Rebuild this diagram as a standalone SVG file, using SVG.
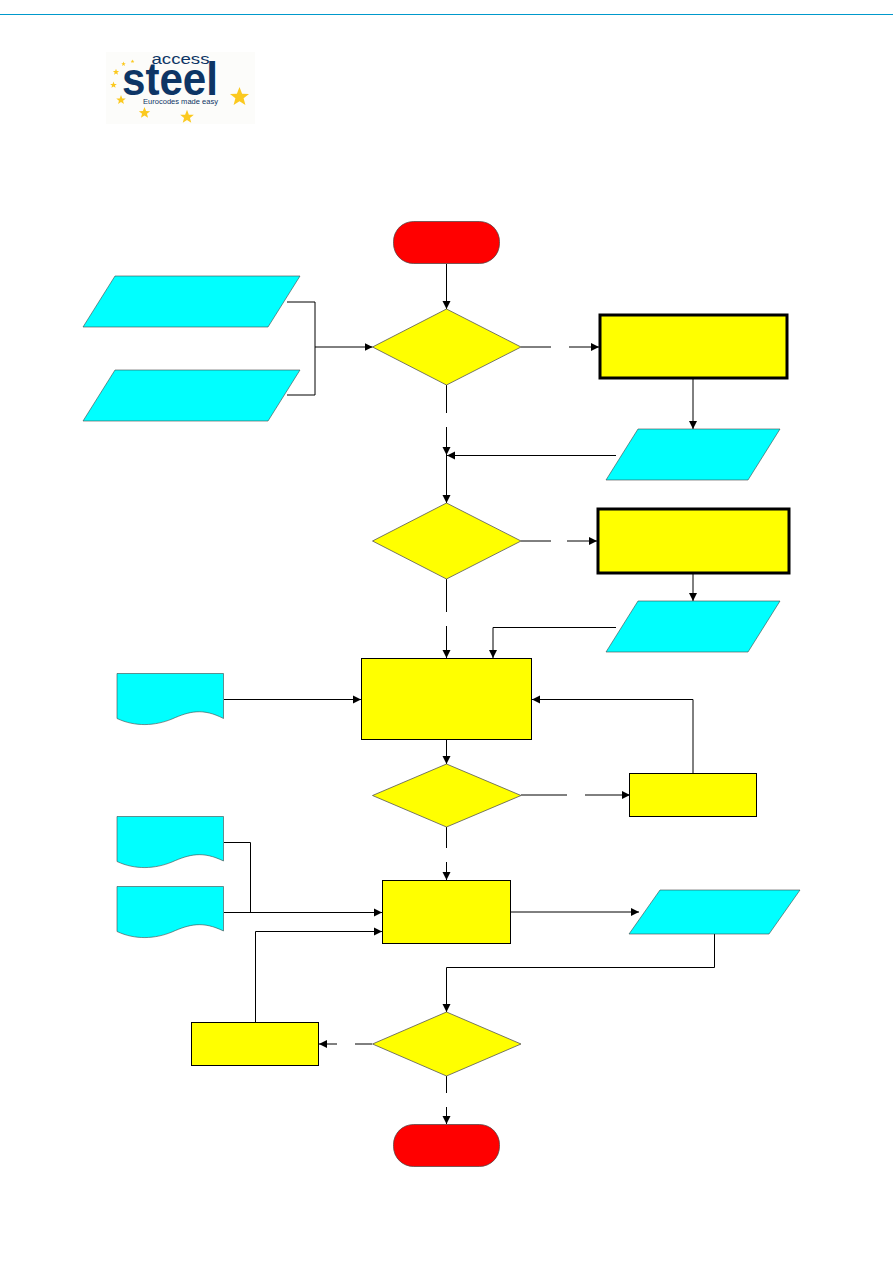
<svg xmlns="http://www.w3.org/2000/svg" width="893" height="1263" viewBox="0 0 893 1263">
<style>
.y{fill:#ff0;stroke:#000;stroke-width:1}
.yd{fill:#ff0;stroke:#555;stroke-width:.8}
.yt{fill:#ff0;stroke:#000;stroke-width:3}
.c{fill:#0ff;stroke:#444;stroke-width:.6}
.r{fill:#f00;stroke:#444;stroke-width:.7}
.l{fill:none;stroke:#000;stroke-width:1}
.s{fill:#fbc91f}
.logo{font-family:"Liberation Sans",Arial,sans-serif;fill:#0d3565}
</style>
<defs>
<marker id="a" markerUnits="userSpaceOnUse" markerWidth="9" markerHeight="9" refX="8" refY="4.5" orient="auto"><path d="M0 .5L8 4.5L0 8.5Z" fill="#000"/></marker>
<polygon id="star" points="0,-10 2.6,-3.2 9.5,-3.1 4.1,1.3 5.9,8.1 0,4.2 -5.900,8.100 -4.100,1.300 -9.500,-3.100 -2.600,-3.200" class="s"/>
</defs>
<rect x="0" y="14" width="893" height="1" fill="#09c"/>
<g id="logo">
<rect x="106" y="52" width="149" height="72" fill="#fcfcfa"/>
<text class="logo" x="151.500" y="63.500" font-size="15.500" textLength="58" lengthAdjust="spacingAndGlyphs">access</text>
<text class="logo" x="122" y="95" font-size="47" font-weight="700" textLength="96" lengthAdjust="spacingAndGlyphs">steel</text>
<text class="logo" x="143" y="103.500" font-size="7.500" textLength="75" lengthAdjust="spacingAndGlyphs">Eurocodes made easy</text>
<use href="#star" transform="translate(239.500 97) scale(1)"/>
<use href="#star" transform="translate(187 117) scale(.72)"/>
<use href="#star" transform="translate(144.500 113) scale(.6)"/>
<use href="#star" transform="translate(121 100) scale(.5)"/>
<use href="#star" transform="translate(113.500 85) scale(.35)"/>
<use href="#star" transform="translate(116 72) scale(.33)"/>
<use href="#star" transform="translate(123.500 64) scale(.24)"/>
<use href="#star" transform="translate(132.500 61.500) scale(.2)"/>
</g>
<g id="connectors">
<path class="l" marker-end="url(#a)" d="M446.500 264V309"/>
<path class="l" marker-end="url(#a)" d="M287 302H315V347H372.500"/>
<path class="l" d="M287 395H315V347"/>
<path class="l" d="M521 347H551"/>
<path class="l" marker-end="url(#a)" d="M569 347H599"/>
<path class="l" d="M446.500 385V413"/>
<path class="l" marker-end="url(#a)" d="M446.500 427V455"/>
<path class="l" marker-end="url(#a)" d="M616 455.500H447"/>
<path class="l" marker-end="url(#a)" d="M446.500 455V503"/>
<path class="l" marker-end="url(#a)" d="M693 379V429"/>
<path class="l" d="M521 541H551"/>
<path class="l" marker-end="url(#a)" d="M567 541H597"/>
<path class="l" d="M446.500 579V612"/>
<path class="l" marker-end="url(#a)" d="M446.500 626V658"/>
<path class="l" marker-end="url(#a)" d="M693 574V601"/>
<path class="l" marker-end="url(#a)" d="M616 627.500H493V658"/>
<path class="l" marker-end="url(#a)" d="M224 699.500H361"/>
<path class="l" marker-end="url(#a)" d="M446.500 740V764"/>
<path class="l" marker-end="url(#a)" d="M693 773V699.500H532"/>
<path class="l" d="M521 795H567"/>
<path class="l" marker-end="url(#a)" d="M585 795H630"/>
<path class="l" d="M446.500 827V848"/>
<path class="l" marker-end="url(#a)" d="M446.500 862V880"/>
<path class="l" d="M224 842.500H250.500V912"/>
<path class="l" marker-end="url(#a)" d="M224 912.500H382"/>
<path class="l" marker-end="url(#a)" d="M255.500 1022V931.500H382"/>
<path class="l" marker-end="url(#a)" d="M511 912H639"/>
<path class="l" marker-end="url(#a)" d="M714.500 934V967.500H446.500V1012"/>
<path class="l" d="M372 1044H355"/>
<path class="l" marker-end="url(#a)" d="M337 1044H319"/>
<path class="l" d="M446.500 1076V1093"/>
<path class="l" marker-end="url(#a)" d="M446.500 1107V1124"/>
</g>
<g id="start"><rect class="r" x="393.500" y="221.500" width="106" height="42" rx="20" ry="20"/></g>
<g id="input1"><polygon class="c" points="115,276 300,276 268,327 83,327"/></g>
<g id="input2"><polygon class="c" points="115,370 300,370 268,421 83,421"/></g>
<g id="decision1"><polygon class="yd" points="446.500,309 521,347 446.500,385 372.500,347"/></g>
<g id="process1"><rect class="yt" x="600" y="315" width="187" height="63"/></g>
<g id="output1"><polygon class="c" points="638,429 780,429 748,480 606,480"/></g>
<g id="decision2"><polygon class="yd" points="446.500,503 521,541 446.500,579 372.500,541"/></g>
<g id="process2"><rect class="yt" x="598" y="509" width="191" height="64"/></g>
<g id="output2"><polygon class="c" points="638,601 780,601 748,652 606,652"/></g>
<g id="doc1"><path class="c" d="M117 673.500H223.500V718.500C203 708 190 711 172 719C155 726 135 727 117 718.500Z"/></g>
<g id="process3"><rect class="y" x="361.500" y="658.500" width="170" height="81"/></g>
<g id="decision3"><polygon class="yd" points="446.500,764 521,795.500 446.500,827 372.500,795.500"/></g>
<g id="process4"><rect class="y" x="629.500" y="773.500" width="127" height="43"/></g>
<g id="doc2"><path class="c" d="M117 816.500H223.500V861C203 851 190 854 172 862C155 869 135 870 117 861.500Z"/></g>
<g id="doc3"><path class="c" d="M117 886.500H223.500V931C203 921 190 924 172 932C155 939 135 940 117 931.500Z"/></g>
<g id="process5"><rect class="y" x="382.500" y="880.500" width="128" height="63"/></g>
<g id="output3"><polygon class="c" points="660,890 800,890 769,934 629,934"/></g>
<g id="process6"><rect class="y" x="191.500" y="1022.500" width="127" height="43"/></g>
<g id="decision4"><polygon class="yd" points="446.500,1012 521,1044 446.500,1076 372.500,1044"/></g>
<g id="end"><rect class="r" x="393.500" y="1124.500" width="106" height="42" rx="20" ry="20"/></g>
</svg>
